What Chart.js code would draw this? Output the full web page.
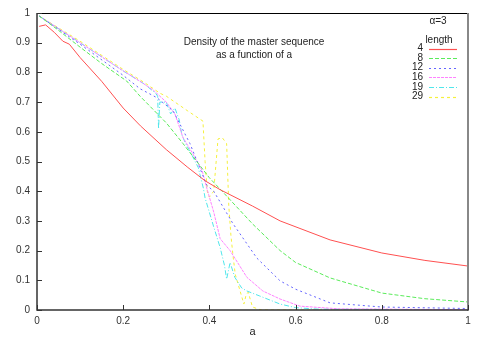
<!DOCTYPE html>
<html>
<head>
<meta charset="utf-8">
<script src="https://cdn.jsdelivr.net/npm/chart.js@4.4.1/dist/chart.umd.min.js"></script>
<style>
  html, body { margin: 0; padding: 0; background: #fff; }
  #wrap { width: 485px; height: 340px; }
</style>
</head>
<body>
<div id="wrap"><canvas id="c"></canvas></div>
<script>
// density of the master sequence, alpha = 3

const xTicks = [0, 0.2, 0.4, 0.6, 0.8, 1]
const yTicks = [0, 0.1, 0.2, 0.3, 0.4, 0.5, 0.6, 0.7, 0.8, 0.9, 1]

const lengths = ['4', '8', '12', '16', '19', '29']

const len4A = [0.005, 0.02, 0.04, 0.06, 0.075, 0.1, 0.15, 0.2, 0.24, 0.3, 0.35, 0.39, 0.425, 0.5, 0.564, 0.68, 0.8, 0.9, 1.0]
const len4V = [0.955, 0.96, 0.935, 0.905, 0.895, 0.85, 0.77, 0.68, 0.62, 0.54, 0.48, 0.435, 0.405, 0.35, 0.30, 0.236, 0.192, 0.167, 0.148]

const len8A = [0.005, 0.046, 0.1, 0.15, 0.208, 0.239, 0.3, 0.339, 0.4, 0.425, 0.5, 0.564, 0.6, 0.68, 0.8, 0.9, 1.0]
const len8V = [0.99, 0.946, 0.885, 0.83, 0.771, 0.72, 0.63, 0.56, 0.445, 0.407, 0.29, 0.20, 0.16, 0.108, 0.057, 0.038, 0.027]

const len12A = [0.005, 0.1, 0.2, 0.239, 0.278, 0.316, 0.355, 0.394, 0.41, 0.455, 0.51, 0.564, 0.6, 0.68, 0.8, 1.0]
const len12V = [0.99, 0.895, 0.79, 0.745, 0.715, 0.67, 0.56, 0.42, 0.40, 0.29, 0.175, 0.098, 0.07, 0.024, 0.01, 0.005]

const len16A = [0.005, 0.1, 0.2, 0.239, 0.27, 0.3, 0.31, 0.32, 0.339, 0.36, 0.383, 0.394, 0.41, 0.425, 0.448, 0.487, 0.524, 0.564, 0.61, 0.7, 1.0]
const len16V = [0.99, 0.9, 0.805, 0.77, 0.74, 0.70, 0.68, 0.66, 0.58, 0.53, 0.47, 0.41, 0.33, 0.24, 0.20, 0.11, 0.064, 0.037, 0.013, 0.004, 0.001]

const len19A = [0.005, 0.2, 0.25, 0.275, 0.28, 0.282, 0.285, 0.3, 0.31, 0.32, 0.33, 0.336, 0.345, 0.36, 0.374, 0.386, 0.39, 0.397, 0.41, 0.425, 0.435, 0.44, 0.448, 0.459, 0.475, 0.487, 0.517, 0.564, 0.6, 0.65, 1.0]
const len19V = [0.99, 0.805, 0.76, 0.73, 0.72, 0.61, 0.70, 0.70, 0.66, 0.68, 0.64, 0.59, 0.56, 0.52, 0.48, 0.41, 0.377, 0.343, 0.28, 0.21, 0.15, 0.104, 0.16, 0.11, 0.074, 0.064, 0.047, 0.02, 0.008, 0.003, 0.0]

const len29A = [0.005, 0.1, 0.2, 0.25, 0.285, 0.3, 0.32, 0.35, 0.385, 0.39, 0.395, 0.40, 0.41, 0.42, 0.43, 0.44, 0.445, 0.45, 0.455, 0.46, 0.47, 0.48, 0.485, 0.49, 0.50, 0.52, 1.0]
const len29V = [0.99, 0.905, 0.81, 0.765, 0.73, 0.72, 0.70, 0.67, 0.636, 0.50, 0.40, 0.38, 0.40, 0.576, 0.58, 0.56, 0.35, 0.25, 0.18, 0.12, 0.07, 0.02, 0.05, 0.06, 0.01, 0.0, 0.0]

const seriesA = [len4A, len8A, len12A, len16A, len19A, len29A]
const seriesV = [len4V, len8V, len12V, len16V, len19V, len29V]
const colors = ['rgb(255,80,80)', 'rgb(90,235,90)', 'rgb(100,100,255)', 'rgb(255,130,255)', 'rgb(80,230,235)', 'rgb(245,240,60)']
const dashes = [[], [4, 2], [2, 3], [3, 1], [5, 2, 1, 2], [3, 3]]

const FONT = '"Liberation Sans", Arial, sans-serif'

function pts(a, v) {
  return a.map((x, i) => ({ x: x, y: v[i] }))
}

const datasets = lengths.map((l, i) => ({
  label: l,
  data: pts(seriesA[i], seriesV[i]),
  borderColor: colors[i],
  borderDash: dashes[i],
  borderWidth: 1,
  pointRadius: 0,
  tension: 0,
  fill: false
}))

// gnuplot-ish frame, inward ticks, title text and key
const frame = {
  id: 'frame',
  afterDraw(chart) {
    const ctx = chart.ctx
    const a = chart.chartArea
    const xs = chart.scales.x, ys = chart.scales.y
    ctx.save()
    // top
    ctx.strokeStyle = '#000'
    ctx.lineWidth = 1
    ctx.beginPath(); ctx.moveTo(a.left, a.top + 0.5); ctx.lineTo(a.right, a.top + 0.5); ctx.stroke()
    // right, grey
    ctx.strokeStyle = '#888'
    ctx.lineWidth = 2
    ctx.beginPath(); ctx.moveTo(a.right, a.top); ctx.lineTo(a.right, a.bottom + 1); ctx.stroke()
    // left + bottom
    ctx.strokeStyle = '#333'
    ctx.lineWidth = 1.5
    ctx.beginPath()
    ctx.moveTo(a.left, a.top); ctx.lineTo(a.left, a.bottom); ctx.lineTo(a.right, a.bottom)
    ctx.stroke()
    ctx.lineWidth = 1
    xTicks.forEach(t => {
      const px = Math.round(xs.getPixelForValue(t)) + 0.5
      ctx.beginPath(); ctx.moveTo(px, a.bottom); ctx.lineTo(px, a.bottom - 5); ctx.stroke()
    })
    yTicks.forEach(t => {
      const py = Math.round(ys.getPixelForValue(t)) + 0.5
      ctx.beginPath(); ctx.moveTo(a.left, py); ctx.lineTo(a.left + 5, py); ctx.stroke()
    })

    // title inside the plot
    ctx.fillStyle = '#222'
    ctx.font = '10px ' + FONT
    ctx.textAlign = 'center'
    ctx.textBaseline = 'middle'
    ctx.fillText('Density of the master sequence', 254, 42)
    ctx.fillText('as a function of a', 254, 55)

    // key
    ctx.fillText('\u03b1=3', 438, 21)
    ctx.fillText('length', 439, 40)
    ctx.textAlign = 'right'
    lengths.forEach((l, i) => {
      const y = 48.5 + i * 9.6
      ctx.fillStyle = '#222'
      ctx.fillText(l, 423, y)
      ctx.strokeStyle = colors[i]
      ctx.lineWidth = 1.2
      ctx.setLineDash(dashes[i])
      ctx.beginPath(); ctx.moveTo(429, Math.round(y) + 0.5); ctx.lineTo(457, Math.round(y) + 0.5); ctx.stroke()
    })
    ctx.restore()
  }
}

const fmt = v => String(Math.round(v * 10) / 10)

new Chart(document.getElementById('c'), {
  type: 'line',
  data: { datasets: datasets },
  options: {
    responsive: true,
    maintainAspectRatio: false,
    animation: false,
    layout: { padding: { left: 0, top: 11, right: 17, bottom: 0 } },
    plugins: {
      legend: { display: false },
      tooltip: { enabled: false }
    },
    scales: {
      x: {
        type: 'linear',
        min: 0, max: 1,
        afterFit: s => { s.height = 30 },
        afterBuildTicks: s => { s.ticks = xTicks.map(v => ({ value: v })) },
        grid: { display: false, drawTicks: false },
        border: { display: false },
        ticks: { padding: 5, color: '#333', font: { size: 10, family: FONT }, callback: fmt },
        title: { display: true, text: 'a', color: '#222', padding: { top: 0, bottom: 1 }, font: { size: 11, family: FONT } }
      },
      y: {
        type: 'linear',
        min: 0, max: 1,
        afterFit: s => { s.width = 37 },
        afterBuildTicks: s => { s.ticks = yTicks.map(v => ({ value: v })) },
        grid: { display: false, drawTicks: false },
        border: { display: false },
        ticks: { padding: 7, color: '#333', font: { size: 10, family: FONT }, callback: fmt }
      }
    }
  },
  plugins: [frame]
})
</script>
</body>
</html>
